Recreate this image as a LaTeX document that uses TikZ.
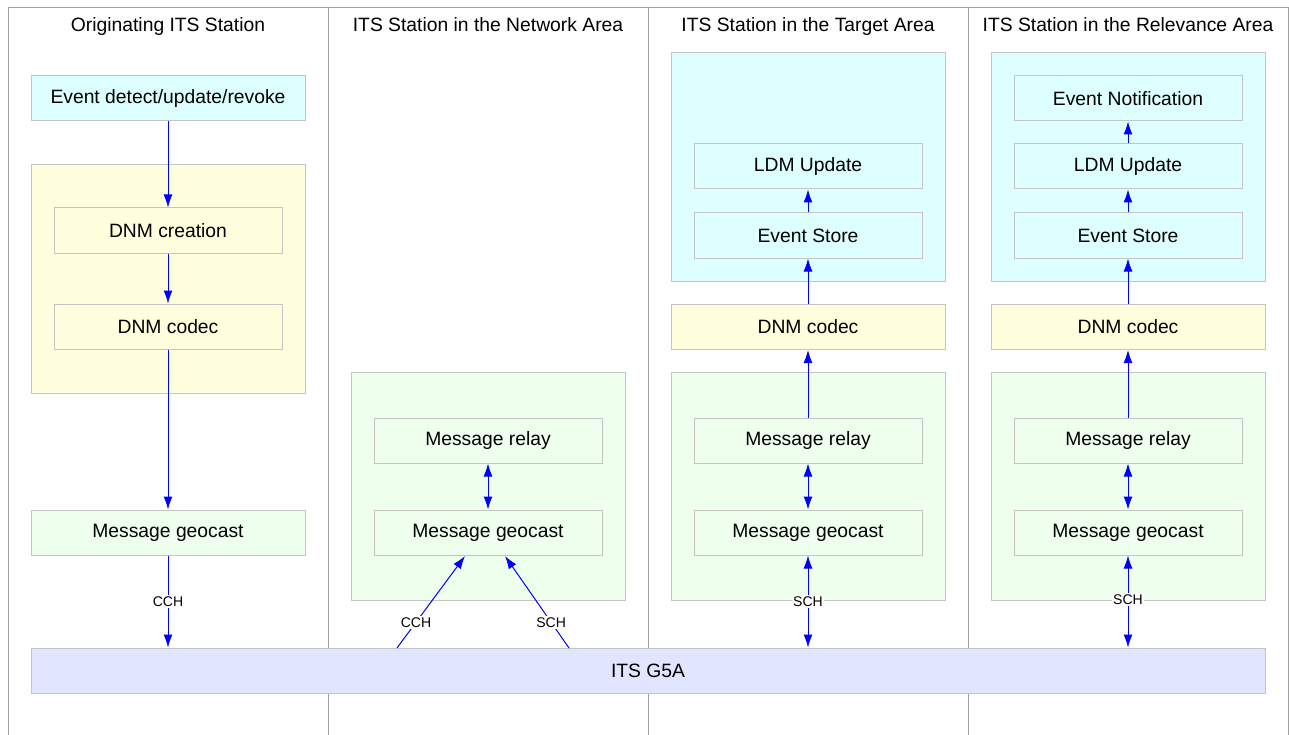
\documentclass[tikz,border=0pt]{standalone}
\usepackage{fontspec}
\setmainfont{Liberation Sans}
\usetikzlibrary{arrows.meta}
\definecolor{cyanfill}{HTML}{DDFFFF}
\definecolor{yelfill}{HTML}{FFFFDD}
\definecolor{grnfill}{HTML}{EEFFEE}
\definecolor{bandfill}{HTML}{E0E6FF}
\definecolor{boxgray}{HTML}{C4C4C4}
\definecolor{lanegray}{HTML}{A0A0A0}
\tikzset{
  box/.style={draw=boxgray, line width=1pt, inner sep=0pt, minimum width=228pt, minimum height=45pt, font=\fontsize{19.3}{22}\selectfont},
  widebox/.style={box, minimum width=274pt},
  cont/.style={draw=boxgray, line width=1pt, inner sep=0pt, minimum width=274pt, minimum height=228pt},
  hdr/.style={font=\fontsize{19.3}{22}\selectfont, inner sep=0pt, anchor=base},
  tip/.style={Latex[length=13pt,width=9pt]},
  conn/.style={draw=blue, line width=1pt, -{Latex[length=13pt,width=9pt]}},
  dconn/.style={draw=blue, line width=1pt, {Latex[length=13pt,width=9pt]}-{Latex[length=13pt,width=9pt]}},
  lbl/.style={font=\fontsize{14}{16}\selectfont, fill=white, inner sep=1.5pt},
}
\begin{document}
\begin{tikzpicture}[x=1pt, y=-1pt]
\useasboundingbox (0,0) rectangle (1289,735);
% lanes
\draw[lanegray, line width=1pt] (8,735) -- (8,8) -- (1288,8) -- (1288,735);
\foreach \x in {328,648,968} \draw[lanegray, line width=1pt] (\x,8) -- (\x,735);
\node[hdr] (h1) at (168,31.5) {Originating ITS Station};
\node[hdr] (h2) at (488,31.5) {ITS Station in the Network Area};
\node[hdr] (h3) at (808,31.5) {ITS Station in the Target Area};
\node[hdr] (h4) at (1128,31.5) {ITS Station in the Relevance Area};

% containers
\node[cont, fill=yelfill] (c1) at (168,279) {};
\node[cont, fill=grnfill] (c2) at (488,486.5) {};
\node[cont, fill=cyanfill] (c3) at (808,167) {};
\node[cont, fill=grnfill] (c3g) at (808,486.5) {};
\node[cont, fill=cyanfill] (c4) at (1128,167) {};
\node[cont, fill=grnfill] (c4g) at (1128,486.5) {};

% column 1
\node[widebox, fill=cyanfill] (ev1) at (168,98.5) {Event detect/update/revoke};
\node[box, fill=yelfill] (cre1) at (168,230.5) {DNM creation};
\node[box, fill=yelfill] (cod1) at (168,326.5) {DNM codec};
\node[widebox, fill=grnfill] (geo1) at (168,532.5) {Message geocast};

% column 2
\node[box, fill=grnfill] (rel2) at (488,440.5) {Message relay};
\node[box, fill=grnfill] (geo2) at (488,532.5) {Message geocast};

% column 3
\node[box, fill=cyanfill] (ldm3) at (808,166.5) {LDM Update};
\node[box, fill=cyanfill] (st3) at (808,235.5) {Event Store};
\node[widebox, fill=yelfill] (cod3) at (808,327) {DNM codec};
\node[box, fill=grnfill] (rel3) at (808,440.5) {Message relay};
\node[box, fill=grnfill] (geo3) at (808,532.5) {Message geocast};

% column 4
\node[box, fill=cyanfill] (not4) at (1128,98.5) {Event Notification};
\node[box, fill=cyanfill] (ldm4) at (1128,166.5) {LDM Update};
\node[box, fill=cyanfill] (st4) at (1128,235.5) {Event Store};
\node[widebox, fill=yelfill] (cod4) at (1128,327) {DNM codec};
\node[box, fill=grnfill] (rel4) at (1128,440.5) {Message relay};
\node[box, fill=grnfill] (geo4) at (1128,532.5) {Message geocast};

% band
\node[draw=boxgray, line width=1pt, fill=bandfill, minimum width=1234pt, minimum height=45pt, inner sep=0pt, font=\fontsize{19.3}{22}\selectfont] (g5) at (648,670.5) {ITS G5A};
\coordinate (g5a) at (397,648);
\coordinate (g5b) at (569,648);
\coordinate (geo2a) at (465,556);
\coordinate (geo2b) at (505,556);

% connectors column 1
\draw[conn] (ev1.south) -- (cre1.north);
\draw[conn] (cre1.south) -- (cod1.north);
\draw[conn] (cod1.south) -- (geo1.north);
\draw[conn] (geo1.south) -- (geo1.south |- g5.north) node[lbl, pos=0.5] (l1) {CCH};

% column 2
\draw[dconn] (rel2.south) -- (geo2.north);
\draw[conn] (g5a) -- (geo2a) node[lbl, pos=0.28] (l2a) {CCH};
\draw[conn] (g5b) -- (geo2b) node[lbl, pos=0.28] (l2b) {SCH};

% column 3
\draw[conn] (st3.north) -- (ldm3.south);
\draw[conn] (cod3.north) -- (st3.south);
\draw[conn] (rel3.north) -- (cod3.south);
\draw[dconn] (rel3.south) -- (geo3.north);
\draw[dconn] (geo3.south) -- (geo3.south |- g5.north) node[lbl, pos=0.5] (l3) {SCH};

% column 4
\draw[conn] (ldm4.north) -- (not4.south);
\draw[conn] (st4.north) -- (ldm4.south);
\draw[conn] (cod4.north) -- (st4.south);
\draw[conn] (rel4.north) -- (cod4.south);
\draw[dconn] (rel4.south) -- (geo4.north);
\draw[dconn] (geo4.south) -- (geo4.south |- g5.north) node[lbl, pos=0.48] (l4) {SCH};
\end{tikzpicture}
\end{document}
